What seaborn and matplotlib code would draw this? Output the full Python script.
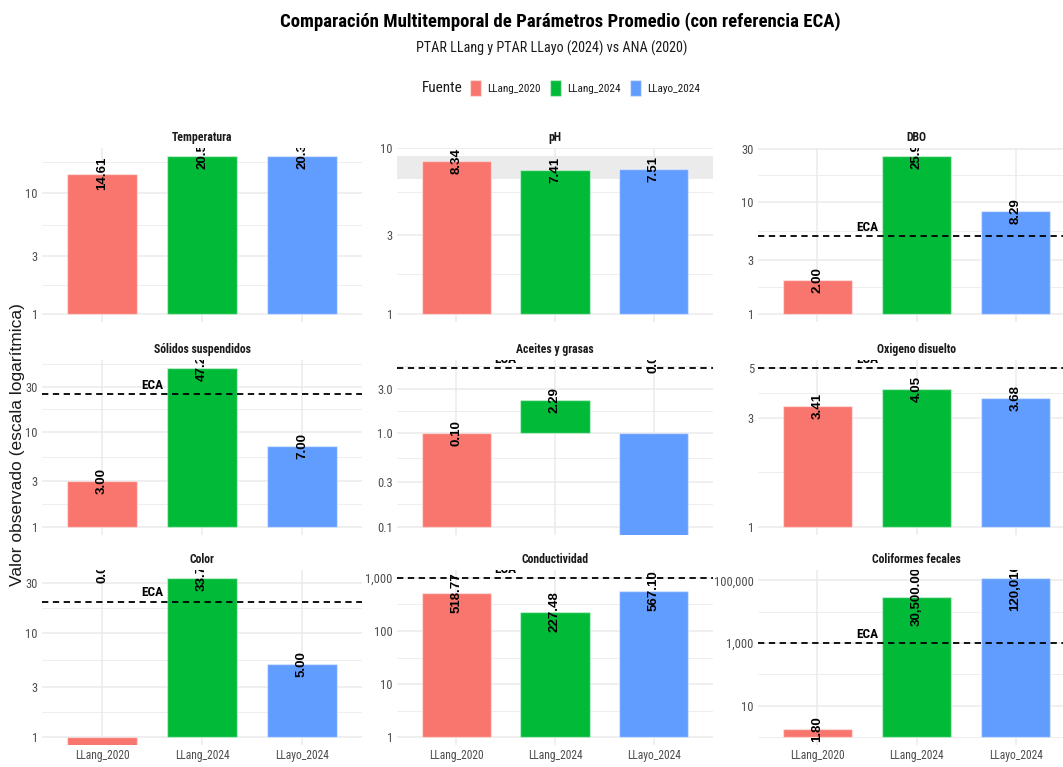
import numpy as np
import pandas as pd
import matplotlib
matplotlib.use("Agg")
import matplotlib.pyplot as plt
import matplotlib.transforms as mtransforms
from matplotlib import font_manager
from matplotlib.patches import Patch
import seaborn as sns

# ---------------------------------------------------------------- data
fuentes = ["LLang_2020", "LLang_2024", "LLayo_2024"]
colores = ["#F8766D", "#00BA38", "#619CFF"]

parametros = ["Temperatura", "pH", "DBO",
              "Sólidos suspendidos", "Aceites y grasas", "Oxigeno disuelto",
              "Color", "Conductividad", "Coliformes fecales"]

# promedios por fuente (texto tal como se rotula)
temperatura = ["14.61", "20.5", "20.3"]
ph = ["8.34", "7.41", "7.51"]
dbo = ["2.00", "25.9", "8.29"]
solidos = ["3.00", "47.2", "7.00"]
aceites = ["0.10", "2.29", "0.00"]
oxigeno = ["3.41", "4.05", "3.68"]
color = ["0.00", "33.7", "5.00"]
conductividad = ["518.77", "227.48", "567.10"]
coliformes = ["1.80", "30,500.00", "120,016.67"]

valores = dict(zip(parametros, [temperatura, ph, dbo, solidos, aceites,
                                oxigeno, color, conductividad, coliformes]))

# estándares de calidad ambiental (ECA)
eca = {"DBO": 5, "Sólidos suspendidos": 25, "Aceites y grasas": 5,
       "Oxigeno disuelto": 5, "Color": 20, "Conductividad": 1000,
       "Coliformes fecales": 1000}
ph_rango = (6.5, 9.0)

# cortes del eje y (escala logarítmica)
cortes_y = {
    "Temperatura": [1, 3, 10],
    "pH": [1, 3, 10],
    "DBO": [1, 3, 10, 30],
    "Sólidos suspendidos": [1, 3, 10, 30],
    "Aceites y grasas": [0.1, 0.3, 1, 3],
    "Oxigeno disuelto": [1, 3, 5],
    "Color": [1, 3, 10, 30],
    "Conductividad": [1, 10, 100, 1000],
    "Coliformes fecales": [10, 1000, 100000],
}

# ---------------------------------------------------------------- style
sns.set_theme(style="white")
disponibles = {f.name for f in font_manager.fontManager.ttflist}


def primera(opciones):
    for o in opciones:
        if o in disponibles:
            return o
    return "DejaVu Sans"


ANGOSTA = primera(["Liberation Sans Narrow", "Roboto Condensed",
                   "Archivo Narrow", "PT Sans Narrow", "Liberation Sans"])
NORMAL = primera(["Liberation Sans", "Arimo", "DejaVu Sans"])
plt.rcParams["font.family"] = [ANGOSTA, "DejaVu Sans"]

GRIS_TXT = "#4D4D4D"
GRID = "#EBEBEB"

W, H = 1063, 767
fig = plt.figure(figsize=(W / 100, H / 100), dpi=100)

columnas = [(42, 362), (397, 713), (758, 1075)]
filas = [(148, 321.7), (360, 534.5), (570, 745)]


def a_numero(s):
    return float(s.replace(",", ""))


def fmt_corte(c, todos):
    if all(float(t).is_integer() for t in todos):
        return f"{int(c):,}"
    return f"{c:.1f}"


for k, par in enumerate(parametros):
    fila, col = divmod(k, 3)
    x0, x1 = columnas[col]
    y0, y1 = filas[fila]
    ax = fig.add_axes([x0 / W, 1 - y1 / H, (x1 - x0) / W, (y1 - y0) / H])

    textos = valores[par]
    nums = np.array([a_numero(s) for s in textos])
    with np.errstate(divide="ignore"):
        logs = np.log10(nums)
    finitos = logs[np.isfinite(logs)]

    # límites en log10: base de las barras en 1 (10^0), ECA incluido, 5 % de margen
    extra = [0.0]
    if par in eca:
        extra.append(np.log10(eca[par]))
    if par == "pH":
        extra += [np.log10(ph_rango[0]), np.log10(ph_rango[1])]
    lo = min(finitos.min(), *extra)
    hi = max(finitos.max(), *extra)
    span = hi - lo
    ylo, yhi = lo - 0.05 * span, hi + 0.05 * span

    # un valor nulo (log = -inf) se dibuja hasta el borde inferior del panel
    df = pd.DataFrame({"Fuente": fuentes,
                       "log": np.where(np.isfinite(logs), logs, ylo - 50)})
    sns.barplot(data=df, x="Fuente", y="log", hue="Fuente", order=fuentes,
                hue_order=fuentes, palette=colores, width=0.7, errorbar=None,
                saturation=1, legend=False, ax=ax,
                edgecolor=(1, 1, 1, 0.45), linewidth=1.0, zorder=2)

    if par == "pH":
        ax.axhspan(np.log10(ph_rango[0]), np.log10(ph_rango[1]),
                   color="#EBEBEB", zorder=1.5, lw=0)

    ax.set_xlim(-0.6, 2.6)
    ax.set_ylim(ylo, yhi)

    # cuadrícula mayor y menor (puntos medios en escala log)
    cortes = cortes_y[par]
    b = np.log10(cortes)
    bext = np.concatenate([[b[0] - (b[1] - b[0])], b, [b[-1] + (b[-1] - b[-2])]])
    menores = (bext[:-1] + bext[1:]) / 2
    for m in menores:
        if ylo <= m <= yhi:
            ax.axhline(m, color=GRID, lw=0.6, zorder=0)
    for m in b:
        ax.axhline(m, color=GRID, lw=1.1, zorder=0)
    for xc in range(3):
        ax.axvline(xc, color=GRID, lw=1.1, zorder=0)

    ax.set_yticks(b)
    ax.set_yticklabels([fmt_corte(c, cortes) for c in cortes])
    ax.tick_params(axis="both", length=0, labelsize=9, colors=GRIS_TXT, pad=3)
    ax.set_xticks(range(3))
    if fila == 2:
        ax.set_xticklabels(fuentes, fontsize=8.3, color=GRIS_TXT)
    else:
        ax.set_xticklabels([])
    ax.set_xlabel("")
    ax.set_ylabel("")
    for s in ax.spines.values():
        s.set_visible(False)
    ax.grid(False)
    ax.set_title(par, fontsize=8.5, fontweight="bold", color="#1A1A1A", pad=5)

    # línea de referencia ECA
    if par in eca:
        ye = np.log10(eca[par])
        ax.axhline(ye, color="black", lw=1.3, ls=(0, (3.5, 2.5)), zorder=4)
        tr = mtransforms.offset_copy(ax.transData, fig=fig, x=0, y=1.5, units="points")
        ax.text(0.5, ye, "ECA", transform=tr, ha="center", va="bottom",
                fontsize=9.5, fontweight="bold", color="black",
                clip_on=True, zorder=5)

    # rótulos de valor
    blend = mtransforms.blended_transform_factory(ax.transData, ax.transAxes)
    for i, (s, v) in enumerate(zip(textos, nums)):
        if v > 0:
            ax.text(i, max(np.log10(v), 0.0), s, rotation=90, ha="center",
                    va="center", fontsize=9.5, fontweight="bold",
                    family=[NORMAL], color="black", clip_on=True, zorder=5)
        else:
            ax.text(i, 1.0, s, transform=blend, rotation=90, ha="center",
                    va="center", fontsize=9.5, fontweight="bold",
                    family=[NORMAL], color="black", clip_on=True, zorder=5)

# ---------------------------------------------------------------- títulos
fig.text(560 / W, 1 - 22 / H,
         "Comparación Multitemporal de Parámetros Promedio (con referencia ECA)",
         ha="center", va="center", fontsize=13.5, fontweight="bold", color="black")
fig.text(552 / W, 1 - 48 / H, "PTAR LLang y PTAR LLayo (2024) vs ANA (2020)",
         ha="center", va="center", fontsize=10.2, color="#1A1A1A")
fig.text(18 / W, 1 - 445 / H, "Valor observado (escala logarítmica)",
         rotation=90, ha="center", va="center", fontsize=12.5, family=[NORMAL],
         color="#1A1A1A")

# leyenda
fig.text(422 / W, 1 - 88 / H, "Fuente", ha="left", va="center", fontsize=11,
         color="#1A1A1A")
manejadores = [Patch(facecolor=c, edgecolor=(1, 1, 1, 0.45), lw=1.0) for c in colores]
fig.legend(manejadores, fuentes, loc="center left",
           bbox_to_anchor=(460 / W, 1 - 88 / H), ncol=3, frameon=False,
           handlelength=1.0, handleheight=1.8, handletextpad=0.5,
           columnspacing=0.9, fontsize=8, labelcolor="#1A1A1A")

fig.savefig("out.png", dpi=100)
